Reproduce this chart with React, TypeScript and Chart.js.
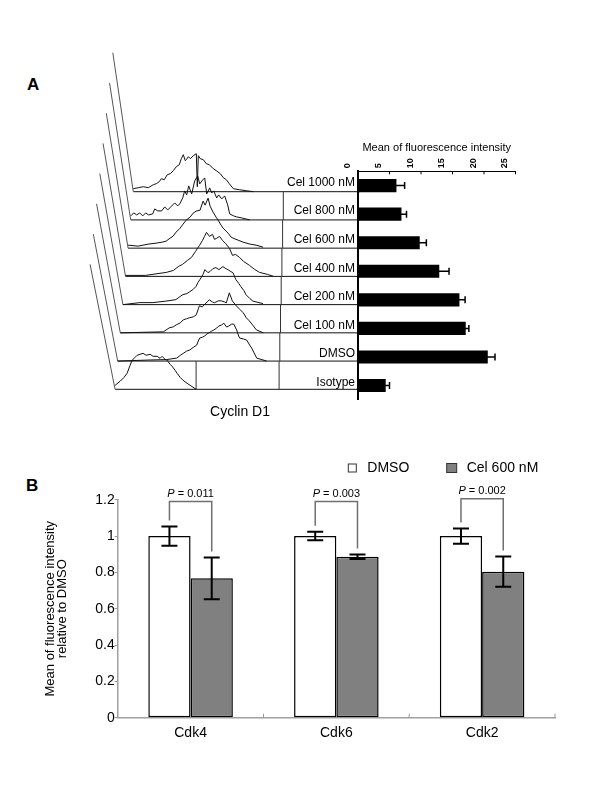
import React, { useEffect, useRef } from 'react';
import { Chart, registerables } from 'chart.js';

Chart.register(...registerables);

const FONT = '"Liberation Sans", Arial, Helvetica, sans-serif';
Chart.defaults.font.family = FONT;

// ---------- Panel A: mean fluorescence intensity (horizontal bars) ----------
const mfiCategories = ['Cel 1000 nM', 'Cel 800 nM', 'Cel 600 nM', 'Cel 400 nM', 'Cel 200 nM', 'Cel 100 nM', 'DMSO', 'Isotype'];
const mfiValues = [6.1, 6.9, 9.8, 12.9, 16.1, 17.1, 20.6, 4.4];
const mfiErrors = [1.3, 0.8, 1.05, 1.55, 0.9, 0.5, 1.15, 0.6];
const mfiTickStep = 5;
const mfiMax = 25;

// ---------- Panel A: Cyclin D1 histograms, [channel, count] ----------
const hist1000: number[][] = [[0,3],[5,4],[10,5],[15,4],[20,7],[23,8],[26,10],[28,13],[31,12],[34,17],[37,18],[40,21],[43,25],[46,27],[48,33],[50,37],[52,31],[53,32],[55,35],[57,33],[60,36],[63,38],[64,5],[65,36],[67,33],[70,32],[73,28],[76,27],[80,23],[83,21],[87,18],[90,14],[93,12],[96,8],[100,3],[106,2],[113,1],[120,0]];
const hist800: number[][] = [[0,4],[3,7],[6,5],[9,7],[12,4],[15,7],[18,5],[22,6],[24,11],[27,9],[31,9],[34,13],[37,10],[39,12],[42,15],[44,17],[47,14],[49,16],[52,22],[54,29],[56,25],[58,34],[61,26],[64,39],[67,44],[69,36],[72,40],[74,42],[76,26],[79,32],[81,27],[83,29],[86,22],[88,25],[91,21],[94,24],[97,15],[99,6],[103,4],[106,3],[111,2],[119,0]];
const hist600: number[][] = [[0,3],[10,2],[20,4],[28,5],[34,6],[38,7],[42,10],[45,12],[48,16],[52,20],[55,24],[58,28],[62,31],[65,35],[68,37],[72,38],[75,47],[77,43],[80,50],[82,42],[85,36],[88,31],[90,28],[93,23],[95,20],[98,17],[100,15],[103,11],[105,10],[110,8],[115,6],[122,4],[128,3],[135,1]];
const hist400: number[][] = [[0,1],[20,1],[41,4],[48,6],[53,10],[57,12],[62,16],[66,19],[70,25],[74,31],[77,36],[79,40],[81,44],[84,40],[87,42],[89,37],[91,38],[94,40],[97,36],[100,33],[104,28],[107,21],[110,22],[114,19],[118,15],[124,11],[129,7],[134,4],[142,2],[148,0]];
const hist200: number[][] = [[0,0],[17,2],[30,2],[43,3.5],[53,5],[57,8],[60,10],[64,11],[67,13],[70,15],[73,18],[75,22],[77,25],[80,30],[82,35],[85,32],[87,33],[90,36],[93,37],[96,35],[100,38],[103,36],[105,35],[108,33],[110,32],[113,25],[116,21],[118,18],[121,14],[123,10],[127,6],[130,3.5],[140,1]];
const hist100: number[][] = [[0,0],[43,1],[49,5],[53,6],[56,8],[60,10],[63,13],[66,14],[69,15],[73,16],[76,18],[78,24],[79,27],[82,26],[84,28],[87,31],[89,33],[92,31],[94,30],[98,32],[101,32],[104,31],[106,30],[109,40],[112,32],[116,27],[120,23],[123,20],[126,15],[129,12],[133,7],[136,3],[143,0]];
const histDMSO: number[][] = [[0,0],[30,1],[49,1.5],[59,3],[63,6],[66,8],[69,10],[72,11],[76,14],[79,16],[81,21],[82,23],[85,24],[87,25],[89,27],[91,28],[94,30],[96,31],[99,33],[101,35],[104,36],[106,38],[109,34],[111,35],[114,37],[116,37],[119,31],[121,25],[122,23],[126,22],[129,21],[132,16],[134,13],[137,7],[139,3],[149,0]];
const histIsotype: number[][] = [[0,4],[5,8],[9,12],[12,16],[15,24],[17,29],[20,32],[22,34],[25,35],[28,36],[31,34],[35,35],[38,33],[42,33],[45,31],[47,33],[50,30],[52,29],[55,25],[57,23],[60,19],[62,16],[65,12],[68,9],[72,6],[75,4],[81,0]];
const histRows = [hist1000, hist800, hist600, hist400, hist200, hist100, histDMSO, histIsotype];
const isotypeGate = 81;

// ---------- Panel B: Cdk levels ----------
const cdkCategories = ['Cdk4', 'Cdk6', 'Cdk2'];
const seriesLabels = ['DMSO', 'Cel 600 nM'];
const dmsoValues = [1.0, 1.0, 1.0];
const dmsoErrors = [0.053, 0.023, 0.042];
const celValues = [0.767, 0.886, 0.804];
const celErrors = [0.115, 0.013, 0.083];
const pValues = ['0.011', '0.003', '0.002'];
const bracketLevels = [1.19, 1.19, 1.205];
const yTickStep = 0.2;
const yMax = 1.2;

// stagger layout of the 3D histogram view
const ROW_STEP = 28.23;
const ROW_SHIFT = 2.6;
const N = histRows.length;

const histFramePlugin = {
  id: 'histFrame',
  beforeDatasetsDraw(chart: any) {
    const { ctx, scales, chartArea } = chart;
    const xs = scales.x, ys = scales.y;
    ctx.save();
    for (let i = 0; i < N; i++) {
      const base = (N - 1 - i) * ROW_STEP;
      const x0 = xs.getPixelForValue(-i * ROW_SHIFT);
      const y0 = ys.getPixelForValue(base);
      ctx.strokeStyle = '#111';
      ctx.lineWidth = 1;
      ctx.beginPath();
      ctx.moveTo(x0, y0);
      ctx.lineTo(chartArea.right, y0);
      ctx.stroke();
      const dx = 20.5 + i * 0.65;
      const dy = 139 - i * 2;
      ctx.strokeStyle = '#555';
      ctx.beginPath();
      ctx.moveTo(x0, y0);
      ctx.lineTo(xs.getPixelForValue(-i * ROW_SHIFT - dx), ys.getPixelForValue(base + dy));
      ctx.stroke();
      if (i > 0) {
        const bx = xs.getPixelForValue(150 - (i - 1) * 0.7);
        ctx.strokeStyle = '#333';
        ctx.beginPath();
        ctx.moveTo(bx, y0);
        ctx.lineTo(bx, ys.getPixelForValue(base + ROW_STEP));
        ctx.stroke();
      }
    }
    const gx = xs.getPixelForValue(isotypeGate - (N - 1) * ROW_SHIFT);
    ctx.strokeStyle = '#333';
    ctx.beginPath();
    ctx.moveTo(gx, ys.getPixelForValue(0));
    ctx.lineTo(gx, ys.getPixelForValue(ROW_STEP));
    ctx.stroke();
    ctx.fillStyle = '#000';
    ctx.font = `14px ${FONT}`;
    ctx.textAlign = 'center';
    ctx.textBaseline = 'middle';
    ctx.fillText('Cyclin D1', xs.getPixelForValue(106.7), ys.getPixelForValue(-22.4));
    ctx.restore();
  },
};

function HistogramChart() {
  const ref = useRef<HTMLCanvasElement>(null);
  useEffect(() => {
    const datasets = histRows.map((rows, i) => ({
      data: rows.map(([ch, h]) => ({ x: ch - i * ROW_SHIFT, y: (N - 1 - i) * ROW_STEP + h })),
      showLine: true,
      borderColor: '#111',
      borderWidth: 1,
      pointRadius: 0,
      fill: false,
      tension: 0,
    }));
    const chart = new Chart(ref.current!, {
      type: 'scatter',
      data: { datasets },
      options: {
        responsive: false,
        animation: false,
        devicePixelRatio: 1,
        events: [],
        layout: { padding: 0 },
        plugins: { legend: { display: false }, tooltip: { enabled: false } },
        scales: {
          x: { type: 'linear', display: false, min: -93.3, max: 226.7 },
          y: { type: 'linear', display: false, min: -30.7, max: 349.3 },
        },
      },
      plugins: [histFramePlugin],
    } as any);
    return () => chart.destroy();
  }, []);
  return <canvas ref={ref} width={320} height={380} style={{ position: 'absolute', left: 40, top: 40 }} />;
}

const mfiErrorPlugin = {
  id: 'mfiError',
  afterDatasetsDraw(chart: any) {
    const { ctx, scales } = chart;
    const meta = chart.getDatasetMeta(0);
    ctx.save();
    ctx.strokeStyle = '#000';
    ctx.lineWidth = 1.5;
    meta.data.forEach((bar: any, i: number) => {
      const v = mfiValues[i], e = mfiErrors[i];
      const x1 = scales.x.getPixelForValue(v - e);
      const x2 = scales.x.getPixelForValue(v + e);
      ctx.beginPath();
      ctx.moveTo(x1, bar.y);
      ctx.lineTo(x2, bar.y);
      ctx.moveTo(x2, bar.y - 3.5);
      ctx.lineTo(x2, bar.y + 3.5);
      ctx.stroke();
    });
    ctx.lineWidth = 1;
    const top = chart.chartArea.top;
    for (let t = 0; t <= mfiMax; t += mfiTickStep) {
      const x = scales.x.getPixelForValue(t);
      ctx.beginPath();
      ctx.moveTo(x, top);
      ctx.lineTo(x, top + 3);
      ctx.stroke();
    }
    ctx.restore();
  },
};

function MfiChart() {
  const ref = useRef<HTMLCanvasElement>(null);
  useEffect(() => {
    const chart = new Chart(ref.current!, {
      type: 'bar',
      data: {
        labels: mfiCategories,
        datasets: [{ data: mfiValues, backgroundColor: '#000', borderWidth: 0, barPercentage: 0.46, categoryPercentage: 1 }],
      },
      options: {
        indexAxis: 'y',
        responsive: false,
        animation: false,
        devicePixelRatio: 1,
        events: [],
        layout: { padding: { top: 0, right: 14.5, bottom: 9, left: 0 } },
        plugins: { legend: { display: false }, tooltip: { enabled: false } },
        scales: {
          x: {
            position: 'top',
            min: 0,
            max: mfiMax,
            ticks: { stepSize: mfiTickStep, minRotation: 90, maxRotation: 90, font: { size: 9, weight: 'bold' }, color: '#000', padding: 3 },
            grid: { display: false, drawTicks: false },
            border: { color: '#000', width: 1 },
            title: { display: true, text: 'Mean of fluorescence intensity', font: { size: 11 }, color: '#000', padding: { top: 11.4, bottom: 0 } },
            afterFit: (s: any) => { s.height = 41.3; },
          },
          y: {
            ticks: { font: { size: 12 }, color: '#000', padding: 3, labelOffset: -3 },
            grid: { display: false, drawTicks: false },
            border: { color: '#000', width: 2 },
            afterFit: (s: any) => { s.width = 88; },
          },
        },
      },
      plugins: [mfiErrorPlugin],
    } as any);
    return () => chart.destroy();
  }, []);
  return <canvas ref={ref} width={260} height={280} style={{ position: 'absolute', left: 270, top: 130 }} />;
}

const cdkPlugin = {
  id: 'cdkExtras',
  afterDatasetsDraw(chart: any) {
    const { ctx, scales, chartArea } = chart;
    const ys = scales.y;
    const m0 = chart.getDatasetMeta(0);
    const m1 = chart.getDatasetMeta(1);
    ctx.save();
    const drawErr = (meta: any, vals: number[], errs: number[]) => {
      meta.data.forEach((bar: any, i: number) => {
        const yTop = ys.getPixelForValue(vals[i] + errs[i]);
        const yBot = ys.getPixelForValue(vals[i] - errs[i]);
        ctx.strokeStyle = '#000';
        ctx.lineWidth = 2;
        ctx.beginPath();
        ctx.moveTo(bar.x, yTop);
        ctx.lineTo(bar.x, yBot);
        ctx.moveTo(bar.x - 8, yTop);
        ctx.lineTo(bar.x + 8, yTop);
        ctx.moveTo(bar.x - 8, yBot);
        ctx.lineTo(bar.x + 8, yBot);
        ctx.stroke();
      });
    };
    drawErr(m0, dmsoValues, dmsoErrors);
    drawErr(m1, celValues, celErrors);
    cdkCategories.forEach((_, i) => {
      const x1 = m0.data[i].x, x2 = m1.data[i].x;
      const yt = ys.getPixelForValue(bracketLevels[i]);
      const y1 = ys.getPixelForValue(dmsoValues[i] + dmsoErrors[i]) - 6;
      const y2 = ys.getPixelForValue(celValues[i] + celErrors[i]) - 6;
      ctx.strokeStyle = '#707070';
      ctx.lineWidth = 1.5;
      ctx.beginPath();
      ctx.moveTo(x1, y1);
      ctx.lineTo(x1, yt);
      ctx.lineTo(x2, yt);
      ctx.lineTo(x2, y2);
      ctx.stroke();
      const italic = `italic 11px ${FONT}`;
      const normal = `11px ${FONT}`;
      const rest = ` = ${pValues[i]}`;
      ctx.font = italic;
      const wp = ctx.measureText('P').width;
      ctx.font = normal;
      const wr = ctx.measureText(rest).width;
      const sx = (x1 + x2) / 2 - (wp + wr) / 2;
      ctx.fillStyle = '#000';
      ctx.textAlign = 'left';
      ctx.textBaseline = 'middle';
      ctx.font = italic;
      ctx.fillText('P', sx, yt - 8);
      ctx.font = normal;
      ctx.fillText(rest, sx + wp, yt - 8);
    });
    ctx.strokeStyle = '#999';
    ctx.lineWidth = 1;
    const w = (chartArea.right - chartArea.left) / cdkCategories.length;
    for (let k = 1; k <= cdkCategories.length; k++) {
      const x = chartArea.left + k * w;
      ctx.beginPath();
      ctx.moveTo(x, chartArea.bottom);
      ctx.lineTo(x, chartArea.bottom - 4);
      ctx.stroke();
    }
    const ds = chart.data.datasets;
    const items = [
      { box: [328.3, 24, 8, 8], tx: 347.3 },
      { box: [426.7, 23.5, 10, 9], tx: 446.7 },
    ];
    items.forEach((it, i) => {
      const [bx, by, bw, bh] = it.box;
      ctx.fillStyle = ds[i].backgroundColor;
      ctx.fillRect(bx, by, bw, bh);
      ctx.strokeStyle = '#333';
      ctx.lineWidth = 1;
      ctx.strokeRect(bx, by, bw, bh);
      ctx.fillStyle = '#000';
      ctx.font = `14px ${FONT}`;
      ctx.textAlign = 'left';
      ctx.textBaseline = 'middle';
      ctx.fillText(ds[i].label, it.tx, 28.5);
    });
    ctx.restore();
  },
};

function CdkChart() {
  const ref = useRef<HTMLCanvasElement>(null);
  useEffect(() => {
    const chart = new Chart(ref.current!, {
      type: 'bar',
      data: {
        labels: cdkCategories,
        datasets: [
          { label: seriesLabels[0], data: dmsoValues, backgroundColor: '#ffffff', borderColor: '#000', borderWidth: 1.5, borderSkipped: false, barPercentage: 1, categoryPercentage: 0.58 },
          { label: seriesLabels[1], data: celValues, backgroundColor: '#808080', borderColor: '#000', borderWidth: 1.5, borderSkipped: false, barPercentage: 1, categoryPercentage: 0.58 },
        ],
      },
      options: {
        responsive: false,
        animation: false,
        devicePixelRatio: 1,
        events: [],
        layout: { padding: { left: 19.6, top: 59.7, right: 25, bottom: 12.3 } },
        plugins: { legend: { display: false }, tooltip: { enabled: false } },
        scales: {
          x: {
            ticks: { font: { size: 14 }, color: '#000', padding: 7 },
            grid: { display: false, drawTicks: false },
            border: { color: '#a0a0a0', width: 1.5 },
            afterFit: (s: any) => { s.height = 30; },
          },
          y: {
            min: 0,
            max: yMax,
            ticks: {
              stepSize: yTickStep,
              font: { size: 14 },
              color: '#000',
              padding: 0,
              callback: (v: any) => String(Number(Number(v).toFixed(1))),
            },
            grid: { drawOnChartArea: false, tickLength: 3, color: '#999' },
            border: { color: '#a0a0a0', width: 1.5 },
            title: {
              display: true,
              text: ['Mean of fluorescence intensity', 'relative to DMSO'],
              font: { size: 13, lineHeight: 0.98 },
              color: '#000',
              padding: { top: 4, bottom: 0 },
            },
            afterFit: (s: any) => { s.width = 78.1; },
          },
        },
      },
      plugins: [cdkPlugin],
    } as any);
    return () => chart.destroy();
  }, []);
  return <canvas ref={ref} width={560} height={320} style={{ position: 'absolute', left: 20, top: 440 }} />;
}

const panelLabel: React.CSSProperties = {
  position: 'absolute',
  fontFamily: FONT,
  fontWeight: 'bold',
  fontSize: 17,
  lineHeight: '17px',
  color: '#000',
};

export default function App() {
  return (
    <div style={{ position: 'absolute', left: 0, top: 0, width: 600, height: 800, background: '#fff', overflow: 'hidden' }}>
      <div style={{ ...panelLabel, left: 27, top: 76 }}>A</div>
      <div style={{ ...panelLabel, left: 26, top: 477 }}>B</div>
      <HistogramChart />
      <MfiChart />
      <CdkChart />
    </div>
  );
}
